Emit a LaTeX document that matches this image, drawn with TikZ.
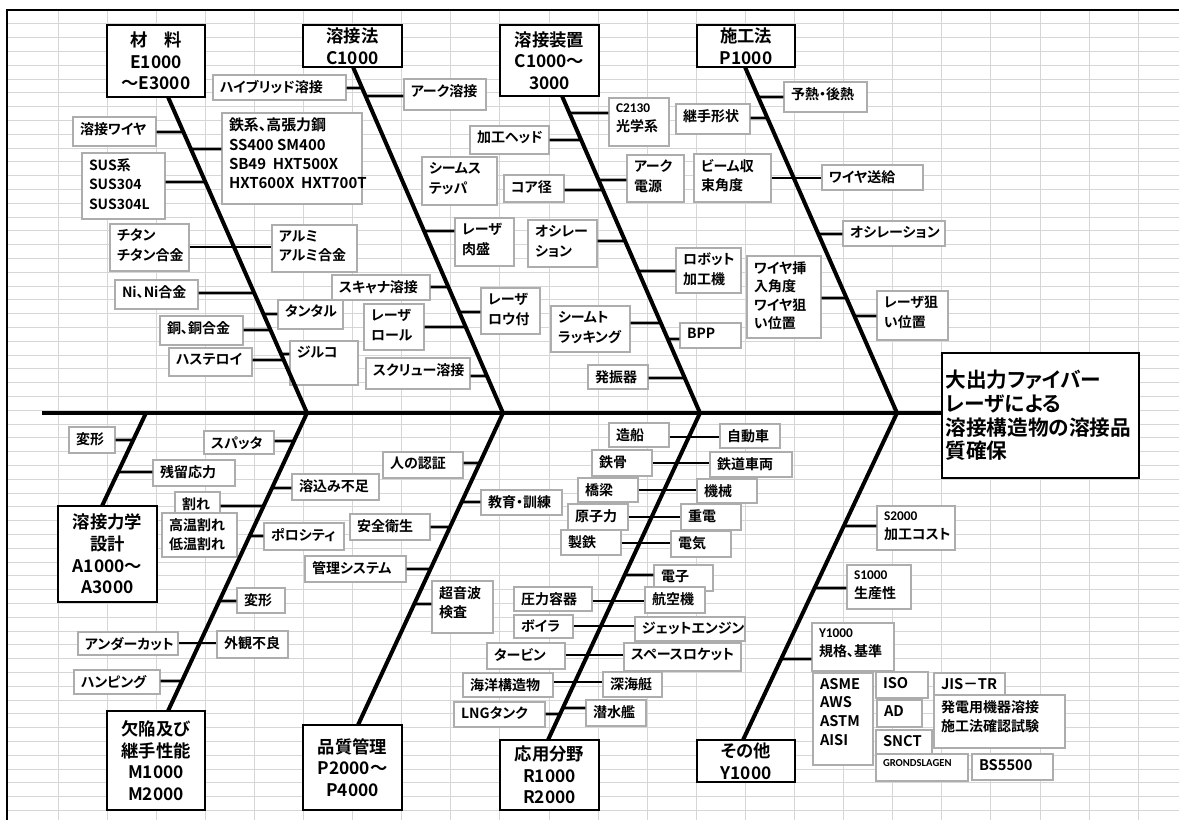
\documentclass[tikz,border=0pt]{standalone}
\usepackage{fontspec}
\IfFontExistsTF{Noto Sans CJK JP Bold}{%
  \setmainfont{Noto Sans CJK JP}[BoldFont={Noto Sans CJK JP Bold},RawFeature=+palt]}{%
  \setmainfont{Noto Sans CJK JP}[BoldFont={Noto Sans CJK JP},BoldFeatures={FakeBold=2.5},RawFeature=+palt]}
\newfontfamily\calfont{Carlito}
\newcommand\lfont{\fontsize{10.5}{14.8}\selectfont\bfseries}
\newcommand\fefont{\fontsize{11.2}{14.3}\selectfont\bfseries}
\newcommand\stdfont{\fontsize{11}{14}\selectfont\bfseries}
\newcommand\catfont{\fontsize{13}{16.2}\selectfont\bfseries}
\newcommand\ttlfont{\fontsize{15.5}{17.8}\selectfont\bfseries}
\newcommand\smlat{\calfont\fontsize{10}{13}\selectfont}
% leaf box: [text options]{name}{x1}{y1}{x2}{y2}{text}
\newcommand\lf[7][]{%
  \node[leaf,minimum width={(#5-#3)*0.75pt},minimum height={(#6-#4)*0.75pt}] (#2) at ({(#3+#5)/2},{(#4+#6)/2}) {};
  \node[lftext,#1] (#2-t) at ([xshift=5.5pt,yshift=-4.2pt]#2.north west) {#7};}
% category box: [options]{name}{x1}{y1}{x2}{y2}{text}
\newcommand\ct[7][]{%
  \node[cat,#1,minimum width={(#5-#3)*0.75pt},minimum height={(#6-#4)*0.75pt}] (#2) at ({(#3+#5)/2},{(#4+#6)/2}) {#7};}
% connector from point at height y to bone
\newcommand\cn[3]{\draw[conn] (#1 |- 0,#2) -- (intersection of #3 and 0,#2--1,#2);}
% connector between two leaves at height y
\newcommand\pr[3]{\draw[conn] (#1.east |- 0,#3) -- (#2.west |- 0,#3);}
\begin{document}
\begin{tikzpicture}[x=0.75pt,y=-0.75pt,
  gridl/.style={draw=black!16,line width=0.6pt},
  leaf/.style={draw=black!32,fill=white,line width=0.9pt,inner sep=0pt},
  lftext/.style={anchor=north west,align=left,inner sep=0pt,font=\lfont},
  cat/.style={draw=black,fill=white,line width=1.6pt,align=center,inner sep=0pt,font=\catfont},
  bone/.style={line width=3pt},
  spine/.style={line width=3.4pt},
  conn/.style={line width=2.1pt}]
\useasboundingbox (0,0) rectangle (1179,820);
\fill[white] (0,0) rectangle (1179,820);
% grid
\foreach \k in {1,...,23} \draw[gridl] ({8.8+49.1*\k},10) -- ({8.8+49.1*\k},820);
\foreach \k in {1,...,58} \draw[gridl] (7,{10+13.8*\k}) -- (1179,{10+13.8*\k});
\draw[line width=1.4pt] (7,820) -- (7,10) -- (1179,10);

% ---------- leaves: upper left (materials) ----------
\lf{hyb}{213}{75}{346}{100}{ハイブリッド溶接}
\lf{arc}{404}{79}{486}{110}{アーク溶接}
\lf{wire}{73}{117}{156}{146}{溶接ワイヤ}
\lf[font=\fefont]{fe}{222}{113}{362}{204}{鉄系、高張力鋼\\SS400 SM400\\SB49\ \ HXT500X\\HXT600X\ \ HXT700T}
\lf{sus}{82}{153}{165}{219}{SUS系\\SUS304\\SUS304L}
\lf{ti}{110}{224}{189}{271}{チタン\\チタン合金}
\lf{al}{272}{225}{357}{272}{アルミ\\アルミ合金}
\lf{ni}{115}{280}{198}{309}{Ni、Ni合金}
\lf{ta}{278}{300}{343}{329}{タンタル}
\lf{cu}{160}{316}{243}{345}{銅、銅合金}
\lf{has}{169}{348}{252}{376}{ハステロイ}
\lf{zr}{290}{341}{358}{385}{ジルコ}
% ---------- welding method ----------
\lf{sca}{332}{275}{430}{300}{スキャナ溶接}
\lf{lro}{364}{304}{424}{350}{レーザ\\ロール}
\lf{scr}{366}{358}{470}{389}{スクリュー溶接}
\lf{lrw}{481}{288}{540}{334}{レーザ\\ロウ付}
\lf{lcl}{455}{218}{514}{266}{レーザ\\肉盛}
\lf{sst}{422}{157}{497}{205}{シームス\\テッパ}
% ---------- equipment ----------
\lf{head}{470}{126}{549}{154}{加工ヘッド}
\lf{core}{504}{175}{564}{202}{コア径}
\lf{opt}{609}{98}{669}{146}{{\smlat\bfseries C2130}\\光学系}
\lf{arcps}{627}{155}{684}{202}{アーク\\電源}
\lf{oscA}{528}{220}{597}{267}{オシレー\\ション}
\lf{robo}{676}{248}{741}{293}{ロボット\\加工機}
\lf{seam}{551}{306}{630}{352}{シームト\\ラッキング}
\lf{bpp}{680}{323}{741}{348}{BPP}
\lf{osc}{588}{365}{648}{389}{発振器}
% ---------- procedure ----------
\lf{pre}{784}{82}{867}{112}{予熱・後熱}
\lf{joint}{676}{104}{750}{134}{継手形状}
\lf{beam}{694}{154}{771}{202}{ビーム収\\束角度}
\lf{wfeed}{822}{165}{923}{190}{ワイヤ送給}
\lf{oscB}{843}{221}{945}{246}{オシレーション}
\lf[font=\fontsize{10.5}{13.9}\selectfont\bfseries]{wang}{747}{256}{821}{338}{ワイヤ挿\\入角度\\ワイヤ狙\\い位置}
\lf{laim}{877}{291}{948}{340}{レーザ狙\\い位置}
% ---------- mechanics ----------
\lf{defA}{69}{427}{115}{453}{変形}
\lf{res}{153}{460}{235}{486}{残留応力}
% ---------- defects ----------
\lf{spa}{204}{431}{274}{454}{スパッタ}
\lf{lof}{292}{474}{379}{500}{溶込み不足}
\lf{crk}{175}{492}{220}{514}{割れ}
\lf{hcrk}{162}{513}{237}{557}{高温割れ\\低温割れ}
\lf{por}{264}{523}{344}{550}{ポロシティ}
\lf{defB}{237}{588}{285}{613}{変形}
\lf{und}{78}{632}{178}{655}{アンダーカット}
\lf{app}{217}{631}{288}{658}{外観不良}
\lf{hum}{74}{670}{160}{694}{ハンピング}
% ---------- quality ----------
\lf{cert}{383}{452}{463}{478}{人の認証}
\lf{edu}{481}{490}{562}{515}{教育・訓練}
\lf{safe}{350}{514}{430}{540}{安全衛生}
\lf{mgmt}{305}{556}{406}{582}{管理システム}
\lf{ut}{432}{581}{493}{633}{超音波\\検査}
% ---------- applications ----------
\lf{ship}{609}{423}{669}{447}{造船}
\lf{car}{720}{424}{780}{448}{自動車}
\lf{stl}{592}{450}{652}{476}{鉄骨}
\lf{rail}{710}{452}{792}{477}{鉄道車両}
\lf{brg}{578}{478}{638}{502}{橋梁}
\lf{mach}{697}{479}{757}{503}{機械}
\lf{nuc}{568}{504}{628}{530}{原子力}
\lf{hvy}{681}{504}{741}{530}{重電}
\lf{iron}{561}{530}{621}{555}{製鉄}
\lf{elec}{671}{531}{731}{557}{電気}
\lf{elc}{654}{565}{713}{591}{電子}
\lf{pv}{514}{587}{592}{611}{圧力容器}
\lf{air}{645}{587}{705}{613}{航空機}
\lf{boil}{514}{615}{573}{638}{ボイラ}
\lf{jet}{635}{617}{745}{641}{ジェットエンジン}
\lf{tur}{487}{643}{565}{669}{タービン}
\lf{rock}{624}{643}{741}{671}{スペースロケット}
\lf{off}{463}{673}{553}{697}{海洋構造物}
\lf{deep}{603}{672}{662}{697}{深海艇}
\lf{lng}{454}{702}{545}{727}{LNGタンク}
\lf{sub}{586}{700}{646}{726}{潜水艦}
% ---------- others ----------
\lf{cost}{877}{506}{955}{550}{{\smlat S2000}\\加工コスト}
\lf{prod}{847}{565}{911}{609}{{\smlat S1000}\\生産性}
\lf{std}{812}{623}{894}{671}{{\smlat Y1000}\\規格、基準}
\lf[font=\stdfont]{asme}{813}{673}{873}{765}{ASME\\AWS\\ASTM\\AISI}
\lf[font=\stdfont]{iso}{876}{672}{928}{698}{ISO}
\lf[font=\stdfont]{jis}{934}{673}{1005}{697}{JIS－TR}
\lf{hatsu}{934}{695}{1065}{748}{発電用機器溶接\\施工法確認試験}
\lf[font=\stdfont]{ad}{877}{700}{922}{727}{AD}
\lf[font=\stdfont]{snct}{876}{730}{932}{756}{SNCT}
\lf[font=\calfont\fontsize{8}{10}\selectfont\bfseries]{grd}{876}{754}{968}{781}{GRONDSLAGEN}
\lf[font=\stdfont]{bs}{972}{754}{1053}{780}{BS5500}

% ---------- bones ----------
\coordinate (U1a) at (168,97);  \coordinate (U1b) at (307,413);
\coordinate (U2a) at (353,67);  \coordinate (U2b) at (503,413);
\coordinate (U3a) at (562,96);  \coordinate (U3b) at (700,413);
\coordinate (U4a) at (745,67);  \coordinate (U4b) at (897,413);
\coordinate (L0a) at (146,413); \coordinate (L0b) at (102,506);
\coordinate (L1a) at (307,413); \coordinate (L1b) at (168,711);
\coordinate (L2a) at (503,413); \coordinate (L2b) at (358,725);
\coordinate (L3a) at (700,413); \coordinate (L3b) at (548,740);
\coordinate (L4a) at (897,413); \coordinate (L4b) at (743,740);
\foreach \b in {U1,U2,U3,U4,L0,L1,L2,L3,L4} \draw[bone] (\b a) -- (\b b);

% ---------- connectors ----------
\cn{hyb.east}{88}{U2a--U2b}
\cn{arc.west}{96}{U2a--U2b}
\cn{wire.east}{132}{U1a--U1b}
\cn{fe.west}{149}{U1a--U1b}
\cn{sus.east}{182}{U1a--U1b}
\pr{ti}{al}{247}
\cn{ni.east}{293}{U1a--U1b}
\cn{ta.west}{314}{U1a--U1b}
\cn{cu.east}{330}{U1a--U1b}
\cn{has.east}{360}{U1a--U1b}
\cn{zr.west}{354}{U1a--U1b}
\cn{sca.east}{287}{U2a--U2b}
\cn{lro.east}{327}{U2a--U2b}
\cn{scr.east}{376}{U2a--U2b}
\cn{lrw.west}{312}{U2a--U2b}
\cn{lcl.west}{231}{U2a--U2b}
\cn{head.east}{140}{U3a--U3b}
\cn{core.east}{190}{U3a--U3b}
\cn{opt.west}{113}{U3a--U3b}
\cn{arcps.west}{180}{U3a--U3b}
\cn{oscA.east}{241}{U3a--U3b}
\cn{robo.west}{271}{U3a--U3b}
\cn{seam.east}{323}{U3a--U3b}
\cn{bpp.west}{339}{U3a--U3b}
\cn{osc.east}{378}{U3a--U3b}
\cn{pre.west}{97}{U4a--U4b}
\cn{joint.east}{118}{U4a--U4b}
\pr{beam}{wfeed}{178}
\cn{oscB.west}{234}{U4a--U4b}
\cn{wang.east}{298}{U4a--U4b}
\cn{laim.west}{316}{U4a--U4b}
\cn{defA.east}{440}{L0a--L0b}
\cn{res.west}{472}{L0a--L0b}
\cn{spa.east}{441}{L1a--L1b}
\cn{lof.west}{488}{L1a--L1b}
\cn{crk.east}{506}{L1a--L1b}
\cn{por.west}{536}{L1a--L1b}
\cn{defB.west}{601}{L1a--L1b}
\pr{und}{app}{643}
\cn{hum.east}{681}{L1a--L1b}
\cn{cert.east}{463}{L2a--L2b}
\cn{edu.west}{502}{L2a--L2b}
\cn{safe.east}{527}{L2a--L2b}
\cn{mgmt.east}{569}{L2a--L2b}
\cn{ut.west}{604}{L2a--L2b}
\pr{ship}{car}{437}
\pr{stl}{rail}{463}
\pr{brg}{mach}{490}
\pr{nuc}{hvy}{517}
\pr{iron}{elec}{543}
\cn{elc.west}{575}{L3a--L3b}
\pr{pv}{air}{601}
\pr{boil}{jet}{626}
\pr{tur}{rock}{655}
\pr{off}{deep}{682}
\cn{lng.east}{714}{L3a--L3b}
\cn{sub.west}{708}{L3a--L3b}
\cn{cost.west}{526}{L4a--L4b}
\cn{prod.west}{588}{L4a--L4b}
\cn{std.west}{659}{L4a--L4b}

% ---------- category boxes ----------
\ct{mat}{107}{25}{205}{97}{材　料\\E1000\\～E3000}
\ct{weld}{303}{25}{402}{67}{溶接法\\C1000}
\ct{equip}{500}{25}{599}{96}{溶接装置\\C1000～\\3000}
\ct{proc}{697}{25}{795}{67}{施工法\\P1000}
\ct{mech}{58}{506}{157}{602}{溶接力学\\設計\\A1000～\\A3000}
\ct{defect}{107}{711}{205}{810}{欠陥及び\\継手性能\\M1000\\M2000}
\ct{qual}{303}{725}{402}{810}{品質管理\\P2000～\\P4000}
\ct{appl}{500}{740}{599}{810}{応用分野\\R1000\\R2000}
\ct{other}{697}{740}{795}{782}{その他\\Y1000}
\ct[align=left,font=\ttlfont,text width={(1139-942)*0.75pt-5pt}]{title}{942}{353}{1139}{478}{大出力ファイバー\\レーザによる\\溶接構造物の溶接品\\質確保}
% spine
\coordinate (sp0) at (42,413);
\draw[spine] (sp0) -- (title.west |- sp0);
\end{tikzpicture}
\end{document}
